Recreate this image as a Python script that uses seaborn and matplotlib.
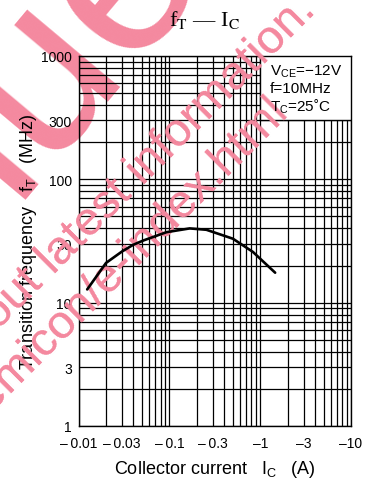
import numpy as np
import pandas as pd
import matplotlib
matplotlib.use("Agg")
import matplotlib.pyplot as plt
import seaborn as sns
from matplotlib.patches import Rectangle
from matplotlib.ticker import FixedLocator, LogLocator, NullFormatter

# ---- data ----
ic = [0.0124, 0.020, 0.030, 0.040, 0.052, 0.093, 0.167, 0.255, 0.50, 0.83, 1.46]
ft = [12.8, 21.0, 26.0, 29.5, 32.0, 37.3, 40.0, 39.0, 33.0, 25.8, 17.5]
x_ticks = [0.01, 0.03, 0.1, 0.3, 1, 3, 10]
x_labels = ["\u2013\u20090.01", "\u2013\u20090.03", "\u2013\u20090.1", "\u2013\u20090.3",
            "\u20131", "\u20133", "\u201310"]
y_ticks = [1, 3, 10, 30, 100, 300, 1000]
y_labels = ["1", "3", "10", "30", "100", "300", "1000"]
cond_lines = ["V$_\\mathrm{CE}$=\u221212V", "f=10MHz", "T$_\\mathrm{C}$=25\u02daC"]
title = "f$_\\mathrm{T}$ \u2014 I$_\\mathrm{C}$"
xlabel = "Collector current   I$_\\mathrm{C}$   (A)"
ylabel = "Transition frequency   f$_\\mathrm{T}$   (MHz)"
wm_big = "Discontinued"
wm_line1 = "Please visit following URL about latest information."
wm_line2 = "http://panasonic.jp/semicon/e-index.html"

sns.set_theme(style="white")
plt.rcParams["font.family"] = ["Liberation Sans", "DejaVu Sans"]
plt.rcParams["mathtext.fontset"] = "custom"
plt.rcParams["mathtext.rm"] = "Liberation Sans"
plt.rcParams["mathtext.it"] = "Liberation Sans:italic"
plt.rcParams["mathtext.bf"] = "Liberation Sans:bold"

W, H = 376, 481
fig = plt.figure(figsize=(W / 100, H / 100), dpi=100)
fig.patch.set_facecolor("white")
L, R, T, B = 78.7, 351, 57, 427
ax = fig.add_axes([L / W, 1 - B / H, (R - L) / W, (B - T) / H])
ax.set_facecolor("none")

df = pd.DataFrame({"ic": ic, "ft": ft})
sns.lineplot(data=df, x="ic", y="ft", ax=ax, color="black", lw=1.9, sort=False, zorder=4)

ax.set_xscale("log")
ax.set_yscale("log")
ax.set_xlim(0.01, 10)
ax.set_ylim(1, 1000)
ax.xaxis.set_major_locator(FixedLocator(x_ticks))
ax.set_xticklabels(x_labels)
ax.yaxis.set_major_locator(FixedLocator(y_ticks))
ax.set_yticklabels(y_labels)
for a in (ax.xaxis, ax.yaxis):
    a.set_minor_locator(LogLocator(base=10, subs=np.arange(1, 10), numticks=20))
    a.set_minor_formatter(NullFormatter())
ax.set_axisbelow(False)
ax.grid(True, which="both", color="black", lw=0.9)
ax.tick_params(which="both", length=0, labelsize=10, colors="black")
ax.tick_params(axis="x", pad=7)
ax.tick_params(axis="y", pad=5)
for s in ax.spines.values():
    s.set_color("black")
    s.set_linewidth(1.0)

ax.set_xlabel(xlabel, fontsize=13, labelpad=6, color="black")
ax.set_ylabel(ylabel, fontsize=13, labelpad=1, color="black")

fig.text(205 / W, 1 - 26 / H, title, fontsize=16, family="Liberation Serif",
         math_fontfamily="stix", ha="center", va="baseline", color="black")

# condition box
x0 = (260 - L) / (R - L)
y0 = (B - 121) / (B - T)
box = Rectangle((x0, y0), 1 - x0, 1 - y0, transform=ax.transAxes,
                facecolor="white", edgecolor="black", lw=1.0, zorder=3)
ax.add_patch(box)
for i, s in enumerate(cond_lines):
    ax.text((270 - L) / (R - L), (B - (71.5 + 17.6 * i)) / (B - T), s,
            transform=ax.transAxes, fontsize=11, va="center", ha="left",
            color="black", zorder=5)

# watermark (drawn under the grid)
pink = "#F4899F"
def wm(s, px, py, size, rot, **kw):
    return fig.text(px / W, 1 - py / H, s, fontsize=size, color=pink, rotation=rot,
                    rotation_mode="anchor", ha="right", va="baseline", **kw)

wm(wm_big, 288, -135, 165, 50, zorder=-1)
wm(wm_line1, 317, 12, 34, 45, zorder=-1)
wm(wm_line2, 290, 112, 34, 45, zorder=-1)
# copy visible over the white condition box
for s, px, py in ((wm_line1, 317, 12), (wm_line2, 290, 112)):
    t = ax.text(px / W, 1 - py / H, s, transform=fig.transFigure, fontsize=34, color=pink,
                rotation=45, rotation_mode="anchor", ha="right", va="baseline", zorder=3.5)
    t.set_clip_path(box)

fig.savefig("out.png", dpi=100, facecolor="white")
